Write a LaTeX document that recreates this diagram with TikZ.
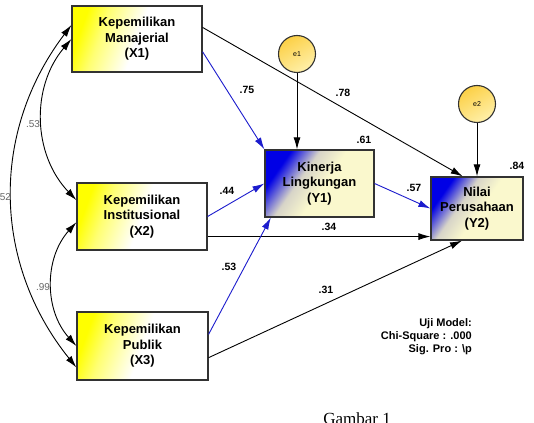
\documentclass[tikz,border=0pt]{standalone}
\usepackage{fontspec}
\setmainfont{Liberation Sans}
\newfontfamily\capserif{Liberation Serif}
\usetikzlibrary{arrows.meta}
\definecolor{pathblue}{RGB}{28,28,205}
\definecolor{boxline}{RGB}{50,50,50}
\definecolor{ylight}{RGB}{250,248,205}
\definecolor{ymid}{RGB}{215,212,200}
\definecolor{errdark}{RGB}{252,208,70}
\definecolor{errlight}{RGB}{255,240,170}
\pgfdeclarehorizontalshading{xshade}{100bp}{color(0bp)=(yellow); color(25bp)=(yellow); color(34bp)=(yellow!55); color(50bp)=(white); color(100bp)=(white)}
\pgfdeclarehorizontalshading{yshade}{100bp}{color(0bp)=(blue!90!black); color(27bp)=(blue!90!black); color(40bp)=(ymid); color(52bp)=(ylight); color(100bp)=(ylight)}
\tikzset{
	xvar/.style={draw=boxline, rectangle, line width=1.2pt, shade, shading=xshade, shading angle=-20, minimum width=130pt, minimum height=67pt, inner sep=2pt, align=center, font=\fontsize{13}{15.5}\selectfont\bfseries},
	yvar/.style={draw=boxline, rectangle, line width=1.2pt, shade, shading=yshade, shading angle=-35, inner sep=2pt, align=center, font=\fontsize{13}{15.5}\selectfont\bfseries},
	err/.style={draw=boxline, circle, line width=1.1pt, minimum size=37pt, inner sep=0pt, top color=errdark, bottom color=errlight, shading angle=30, font=\fontsize{7}{8}\selectfont},
	% path coefficients and correlations
	coef/.style={inner sep=1pt, font=\fontsize{10.5}{12}\selectfont\bfseries},
	cov/.style={inner sep=1pt, text=black!60, font=\fontsize{10}{12}\selectfont},
}

\begin{document}
\begin{tikzpicture}[x=1pt, y=-1pt]
	\clip (0,0) rectangle (534,422);
	\fill[white] (0,0) rectangle (534,422);
	
	\node (x1) [xvar, minimum height=66pt] at (137,39) {Kepemilikan\\Manajerial\\(X1)};
	\node (x2) [xvar] at (142,216.5) {Kepemilikan\\Institusional\\(X2)};
	\node (x3) [xvar, minimum width=131pt, minimum height=68pt] at (142.5,346) {Kepemilikan\\Publik\\(X3)};
	
	\node (y1) [yvar, minimum width=109pt, minimum height=67pt] at (319.5,183.5) {Kinerja\\Lingkungan\\(Y1)};
	\node (y2) [yvar, minimum width=92pt, minimum height=63pt] at (477,208.5) {Nilai\\Perusahaan\\(Y2)};
	
	\node (e1) [err] at (297,54) {e1};
	\node (e2) [err] at (477,104) {e2};
	
	\begin{scope}[line width=0.9pt, black, ->, >={Latex[length=12pt,width=7pt]}]
		\draw[pathblue] (x1.-11) -- (y1.north west);
		\draw (x1.10) -- (y2.114);
		\draw[pathblue] (x2.east) -- (y1.west);
		\draw (x2.-17) -- (x2.-17 -| y2.west);
		\draw[pathblue] (x3.10) -- (y1.-145);
		\draw (x3.-10) -- (y2.-115);
		\draw[pathblue] (y1.east) -- (y2.west);
		\draw (e1) -- (e1 |- y1.north);
		\draw (e2) -- (y2);
	\end{scope}
	
	\begin{scope}[line width=0.9pt, black, <->, >={Latex[length=12pt,width=7pt]}]
		\draw (x1.west) to[bend right=42] (x2.166);
		\draw (x1.168) to[bend right=38] (x3.198);
		\draw (x2.185) to[bend right=42] (x3.west);
	\end{scope}
	
	\node (c1) [coef] at (247,90) {.75};
	\node (c2) [coef] at (343,93) {.78};
	\node (c3) [coef] at (364,140) {.61};
	\node (c4) [coef] at (517,166) {.84};
	\node (c5) [coef] at (414,188) {.57};
	\node (c6) [coef] at (227,191) {.44};
	\node (c7) [coef] at (329,227) {.34};
	\node (c8) [coef] at (229,267) {.53};
	\node (c9) [coef] at (326,290) {.31};
	
	\node (r1) [cov] at (33,124) {.53};
	\node (r2) [cov] at (4,197) {.52};
	\node (r3) [cov] at (43,287) {.99};
	
	\node (uji) [anchor=east, align=right, inner sep=0pt, font=\fontsize{11}{13}\selectfont\bfseries] at (472,337) {Uji Model:\\Chi-Square : .000\\Sig. Pro : \textbackslash p};
	\node (gbr) [anchor=base, inner sep=0pt, font=\capserif\fontsize{17}{20}\selectfont] at (357,424) {Gambar 1};
\end{tikzpicture}
\end{document}
